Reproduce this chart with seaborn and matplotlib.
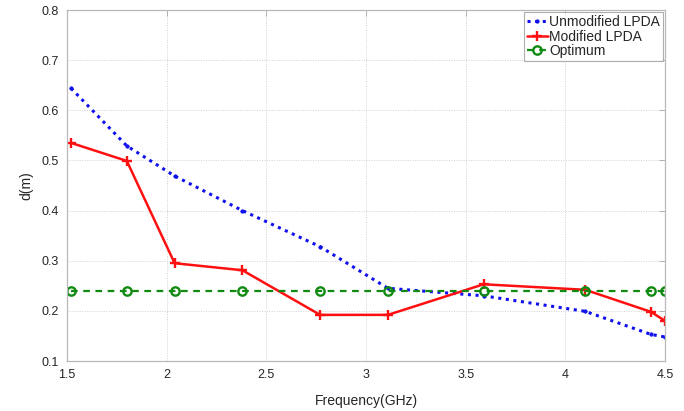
import matplotlib
matplotlib.use("Agg")
import matplotlib.pyplot as plt
import seaborn as sns
import pandas as pd

# Frequencies (GHz) and spacing d (m) for each antenna design
freq = [1.52, 1.80, 2.04, 2.38, 2.77, 3.11, 3.59, 4.10, 4.43, 4.50]
unmodified = [0.644, 0.529, 0.469, 0.400, 0.328, 0.245, 0.230, 0.199, 0.153, 0.148]
modified = [0.535, 0.499, 0.295, 0.281, 0.192, 0.192, 0.253, 0.242, 0.198, 0.180]
optimum = [0.240, 0.240, 0.240, 0.240, 0.240, 0.240, 0.240, 0.240, 0.240, 0.240]

x_ticks = [1.5, 2, 2.5, 3, 3.5, 4, 4.5]
x_tick_labels = ["1.5", "2", "2.5", "3", "3.5", "4", "4.5"]
y_ticks = [0.1, 0.2, 0.3, 0.4, 0.5, 0.6, 0.7, 0.8]
y_tick_labels = ["0.1", "0.2", "0.3", "0.4", "0.5", "0.6", "0.7", "0.8"]

df = pd.DataFrame({"freq": freq, "unmod": unmodified, "mod": modified, "opt": optimum})

sns.set_style("white")
plt.rcParams["font.family"] = ["Liberation Sans", "DejaVu Sans"]

fig = plt.figure(figsize=(6.84, 4.11), dpi=100)
ax = fig.add_axes([67 / 684, 1 - 361 / 411, (665 - 67) / 684, (361 - 10) / 411])

blue, red, green = "#1010ee", "#ff1010", "#108a10"

sns.lineplot(data=df, x="freq", y="unmod", ax=ax, color=blue, linestyle=(0, (1, 1.5)),
             linewidth=2.2, marker=".", markersize=5, markeredgewidth=0.5,
             markeredgecolor=blue, markerfacecolor=blue, label="Unmodified LPDA")
sns.lineplot(data=df, x="freq", y="mod", ax=ax, color=red, linestyle="-",
             linewidth=1.8, marker="+", markersize=7.5, markeredgewidth=1.7,
             markeredgecolor=red, label="Modified LPDA")
sns.lineplot(data=df, x="freq", y="opt", ax=ax, color=green, linestyle=(0, (3, 2.5)),
             linewidth=1.6, marker="o", markersize=6, markerfacecolor="none",
             markeredgewidth=1.7, markeredgecolor=green, label="Optimum")

ax.set_xlim(1.5, 4.5)
ax.set_ylim(0.1, 0.8)
ax.set_xticks(x_ticks)
ax.set_xticklabels(x_tick_labels)
ax.set_yticks(y_ticks)
ax.set_yticklabels(y_tick_labels)

ax.grid(True, color="#d0d0d0", linestyle=(0, (1, 1.5)), linewidth=0.7)
for s in ax.spines.values():
    s.set_color("#b8b8b8")
    s.set_linewidth(0.9)
ax.tick_params(direction="in", length=4, width=0.7, color="#b0b0b0",
               labelsize=9, labelcolor="#262626", top=True, right=True, pad=6)

ax.set_xlabel("Frequency(GHz)", fontsize=10, color="#262626", labelpad=9)
ax.set_ylabel("d(m)", fontsize=10, color="#262626", labelpad=6)

leg = ax.legend(loc="upper right", fontsize=10, frameon=True, fancybox=False,
                handlelength=1.5, handletextpad=0.1, borderpad=0.2,
                labelspacing=0.05, borderaxespad=0.15)
leg.get_frame().set_edgecolor("#9a9a9a")
leg.get_frame().set_linewidth(0.8)

fig.savefig("out.png", dpi=100)
